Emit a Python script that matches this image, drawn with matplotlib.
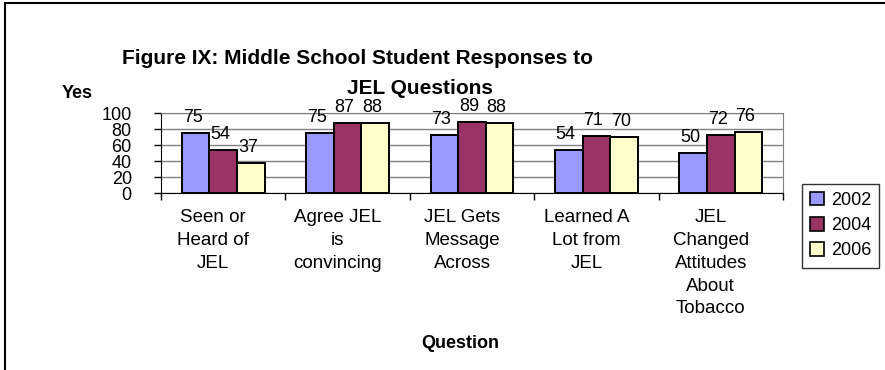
import numpy as np
import matplotlib
matplotlib.use("Agg")
import matplotlib.pyplot as plt
from matplotlib.patches import Rectangle, Patch

plt.rcParams["font.family"] = ["Liberation Sans", "DejaVu Sans"]

# data
questions = [
    "Seen or\nHeard of\nJEL",
    "Agree JEL\nis\nconvincing",
    "JEL Gets\nMessage\nAcross",
    "Learned A\nLot from\nJEL",
    "JEL\nChanged\nAttitudes\nAbout\nTobacco",
]
years = ["2002", "2004", "2006"]
yes_2002 = [75, 75, 73, 54, 50]
yes_2004 = [54, 87, 89, 71, 72]
yes_2006 = [37, 88, 88, 70, 76]
colors = ["#9999FF", "#993366", "#FFFFCC"]

W, H = 885, 370
fig = plt.figure(figsize=(W / 100, H / 100), dpi=100)
ax = fig.add_axes([161 / W, 1 - 193 / H, (783 - 161) / W, 80 / H])

x = np.arange(len(questions))
bw = 0.222
for k, (vals, c) in enumerate(zip([yes_2002, yes_2004, yes_2006], colors)):
    xs = x + (k - 1) * bw
    ax.bar(xs, vals, width=bw, color=c, edgecolor="black", linewidth=1.4, zorder=3)
    for xi, v in zip(xs, vals):
        ax.annotate(str(v), xy=(xi, v), xytext=(-3, 7), textcoords="offset pixels",
                    ha="center", va="bottom", fontsize=13, zorder=4)

ax.set_xlim(-0.5, len(questions) - 0.5)
ax.set_ylim(0, 100)
ax.set_yticks([0, 20, 40, 60, 80, 100])
ax.yaxis.grid(True, color="#808080", linewidth=1, zorder=0)
ax.set_axisbelow(True)
ax.set_xticks(np.arange(-0.5, len(questions), 1))
ax.set_xticklabels([])
ax.tick_params(axis="x", direction="out", length=5, width=1, colors="black")
ax.tick_params(axis="y", direction="out", length=5, width=1, pad=16, labelsize=13)
for s in ["top", "right"]:
    ax.spines[s].set_color("#808080")
for s in ["left", "bottom"]:
    ax.spines[s].set_color("black")

for i, q in enumerate(questions):
    ax.annotate(q, xy=(i, 0), xycoords=("data", "axes fraction"),
                xytext=(-10, -16), textcoords="offset pixels",
                ha="center", va="top", fontsize=13.5, linespacing=1.45)

fig.text(358 / W, 1 - 58 / H, "Figure IX: Middle School Student Responses to",
         ha="center", va="center", fontsize=15, fontweight="bold")
fig.text(420 / W, 1 - 88 / H, "JEL Questions",
         ha="center", va="center", fontsize=15, fontweight="bold")
fig.text(62 / W, 1 - 93 / H, "Yes", ha="left", va="center", fontsize=13, fontweight="bold")
fig.text(460 / W, 1 - 343 / H, "Question", ha="center", va="center",
         fontsize=13, fontweight="bold")

handles = [Patch(facecolor=c, edgecolor="black", linewidth=1.2) for c in colors]
leg = fig.legend(handles, years, loc="upper left", bbox_to_anchor=(802 / W, 1 - 184 / H),
                 fontsize=13, frameon=True, fancybox=False, edgecolor="black",
                 handlelength=0.75, handleheight=0.75, handletextpad=0.4,
                 labelspacing=0.45, borderpad=0.45, borderaxespad=0)
leg.get_frame().set_linewidth(1)

fig.add_artist(Rectangle((5 / W, -0.5), 2, 1.5 - 3 / H, transform=fig.transFigure,
                         fill=False, edgecolor="black", linewidth=1.5))

fig.savefig("out.png", dpi=100)
